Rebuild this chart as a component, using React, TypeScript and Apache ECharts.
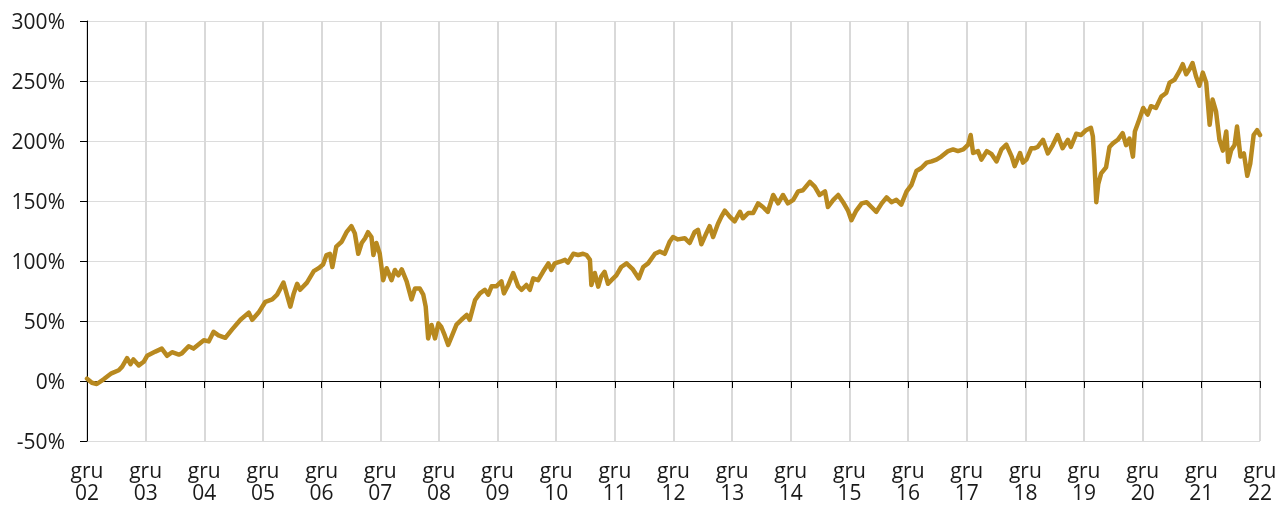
import React, { useEffect, useRef } from "react";
import * as echarts from "echarts";

// months since gru 02 (December 2002)
const months: number[] = [
  0, 1, 2, 3.4, 5, 6.5, 7.2, 8.2, 8.9, 9.5, 10.6, 11.6, 12.3, 14, 15.3, 16.4, 17.4, 18.8, 19.4, 20.8,
  21.8, 23.9, 24.9, 25.9, 26.9, 28.3, 29.7, 31.4, 33.1, 33.8, 35.1, 36.5, 37.9, 38.9, 40.2, 40.9,
  41.6, 42.3, 43, 43.6, 45, 46.4, 47.4, 48.3, 49, 49.7, 50.2, 51, 52.1, 53.1, 54.1, 54.8, 55.5,
  56.2, 56.9, 57.5, 58.2, 58.6, 59.2, 59.9, 60.6, 61.3, 62.3, 63, 63.7, 64.4, 65.4, 66.4, 67.1,
  68.1, 68.8, 69.3, 69.8, 70.5, 71.2, 71.9, 72.5, 73.2, 73.9, 74.6, 75.6, 76.6, 77.7, 78.3, 79.4,
  80.4, 81.4, 82.1, 82.8, 83.8, 84.8, 85.3, 86.2, 87.2, 88.2, 88.9, 89.9, 90.6, 91.3, 92.3, 93.3,
  94.4, 95, 95.7, 96.8, 97.8, 98.4, 99.5, 100.5, 101.5, 102.2, 102.9, 103.2, 103.9, 104.6, 105.2,
  105.9, 106.6, 107.3, 108.3, 109.3, 110.4, 111.7, 112.9, 113.8, 114.8, 116.2, 117.2, 118.2, 119.2,
  119.9, 120.9, 122.3, 123.3, 124.3, 125, 125.7, 126.7, 127.4, 128.1, 129.1, 129.8, 130.5, 131.5,
  132.5, 133.6, 134.2, 135.3, 136.3, 137.3, 138.3, 139.3, 140.4, 141.4, 142.4, 143.4, 144.5, 145.5,
  146.5, 147.9, 148.9, 149.9, 151, 151.6, 152.7, 153.7, 154.7, 155.7, 156.4, 157.4, 158.5, 159.5,
  160.5, 161.5, 162.6, 163.6, 164.6, 165.6, 166.6, 167.7, 168.7, 169.7, 170.7, 171.8, 172.8, 173.8,
  174.8, 176.2, 177.2, 178.2, 179.3, 180.3, 180.8, 181.3, 182.3, 183, 184.1, 185.1, 186.1, 187.1,
  188.1, 189.2, 189.8, 190.9, 191.5, 192.2, 193.2, 193.9, 194.5, 195.6, 196.6, 197.6, 198.6, 199.6,
  200.7, 201.3, 202.4, 203.4, 204.4, 205.4, 205.8, 206.1, 206.5, 206.9, 207.5, 208.5, 209.2, 209.9,
  210.9, 211.9, 212.6, 213.3, 214, 214.4, 215.3, 216.1, 217, 217.7, 218.7, 219.8, 220.8, 221.5,
  222.5, 223.5, 224.2, 224.9, 225.6, 226.2, 226.9, 227.6, 228.3, 229, 229.7, 230.3, 231, 231.7,
  232.4, 233.1, 233.5, 234.1, 234.8, 235.3, 236, 236.7, 237.4, 238, 238.7, 239.4, 240,
];

// cumulative return, %
const values: number[] = [
  2, -1.5, -2.5, 1.4, 6.4, 9, 12, 19, 14, 18, 13, 16, 21, 24.5, 27, 21, 24, 22, 23, 29,
  27, 34, 33, 41, 38, 36, 43, 51, 57, 51, 57, 66, 68, 72, 82, 72,
  62, 73, 81, 76, 82, 91.5, 94, 97, 105, 106, 95, 112, 116, 124, 129, 123, 106,
  115, 119, 124, 120, 105, 115, 106, 84, 94, 84, 92.5, 88, 93, 83, 68, 77,
  77, 72, 62, 35.5, 46.7, 35.5, 48, 45, 38, 30, 37, 47, 51, 55, 51, 67.5,
  73, 76, 72, 79, 79, 83, 73, 80, 90, 79, 76, 80, 76, 85.5, 84, 91,
  98, 92.5, 98, 99.4, 101, 98.6, 106, 105, 106, 105, 101, 80, 90, 78.6, 87,
  91, 81, 84, 88, 95, 98, 93, 85.5, 95, 98, 106, 108, 106, 116,
  120, 118, 119, 115, 124, 126, 114, 123, 129, 120, 131, 137, 142, 137,
  133, 141, 135.6, 140, 140, 148, 145, 141, 155, 148, 155, 148, 151, 158,
  159, 166, 162, 155, 158, 145, 151, 155, 149, 142, 134, 142, 148, 149,
  145, 141, 148, 153, 149, 151, 147, 158, 163.5, 175, 177.5, 182, 183, 184.5,
  187, 191.6, 193, 191.6, 193, 197, 205, 190, 191.6, 184.5, 191.6, 189, 183, 193,
  197, 187, 179, 190, 182, 184.5, 194, 194, 195, 201, 189.6, 196.6, 205, 194,
  201, 195, 206, 205, 209, 211, 204, 184, 149, 164, 173, 178, 195, 198,
  201, 206.5, 196.6, 202, 187, 208, 218, 227.5, 222, 229, 227.5, 237, 240, 248.6,
  251, 258, 264, 255.6, 260, 265, 254, 246, 257, 248.6, 213.5, 234.5, 224.7, 201,
  192, 208, 182.6, 192.4, 196.6, 212, 187, 189.6, 171, 181, 205, 209, 205,
];

const yTicks: number[] = [-50, 0, 50, 100, 150, 200, 250, 300];
const xLabelMonth = "gru";
const startYear = 2;

export default function App() {
  const ref = useRef<HTMLDivElement>(null);
  useEffect(() => {
    if (!ref.current) return;
    const chart = echarts.init(ref.current, null, { renderer: "svg" });
    const data = months.map((m, i) => [m, values[i]]);
    const font = "'Open Sans', 'Noto Sans', sans-serif";
    chart.setOption({
      animation: false,
      grid: {
        left: 87,
        right: 19,
        top: 21,
        bottom: 67,
        containLabel: false,
        outerBoundsMode: "none",
      },
      xAxis: {
        type: "value",
        min: 0,
        max: 240,
        interval: 12,
        axisLine: { show: true, onZero: true, lineStyle: { color: "#000", width: 1 } },
        axisTick: { show: true, length: 7, lineStyle: { color: "#000", width: 1 } },
        axisLabel: {
          margin: 18,
          color: "#1a1a1a",
          fontSize: 21,
          fontFamily: font,
          lineHeight: 22,
          hideOverlap: false,
          formatter: (v: number) => {
            const y = startYear + Math.round(v / 12);
            return xLabelMonth + "\n" + String(y).padStart(2, "0");
          },
        },
        splitLine: { show: true, lineStyle: { color: "#d9d9d9", width: 2 } },
      },
      yAxis: {
        type: "value",
        min: yTicks[0],
        max: yTicks[yTicks.length - 1],
        interval: 50,
        axisLine: { show: true, onZero: false, lineStyle: { color: "#000", width: 1 } },
        axisTick: { show: true, length: 7, lineStyle: { color: "#000", width: 1 } },
        axisLabel: {
          margin: 22,
          color: "#1a1a1a",
          fontSize: 21,
          fontFamily: font,
          formatter: (v: number) => v + "%",
        },
        splitLine: { show: true, lineStyle: { color: "#dcdcdc", width: 1 } },
      },
      series: [
        {
          type: "line",
          data,
          showSymbol: false,
          symbol: "none",
          lineStyle: { color: "#B8891F", width: 4.5, join: "round", cap: "round" },
          z: 5,
        },
      ],
    });
    return () => chart.dispose();
  }, []);
  return (
    <div
      ref={ref}
      style={{ position: "fixed", left: 0, top: 0, width: 1279, height: 508 }}
    />
  );
}
